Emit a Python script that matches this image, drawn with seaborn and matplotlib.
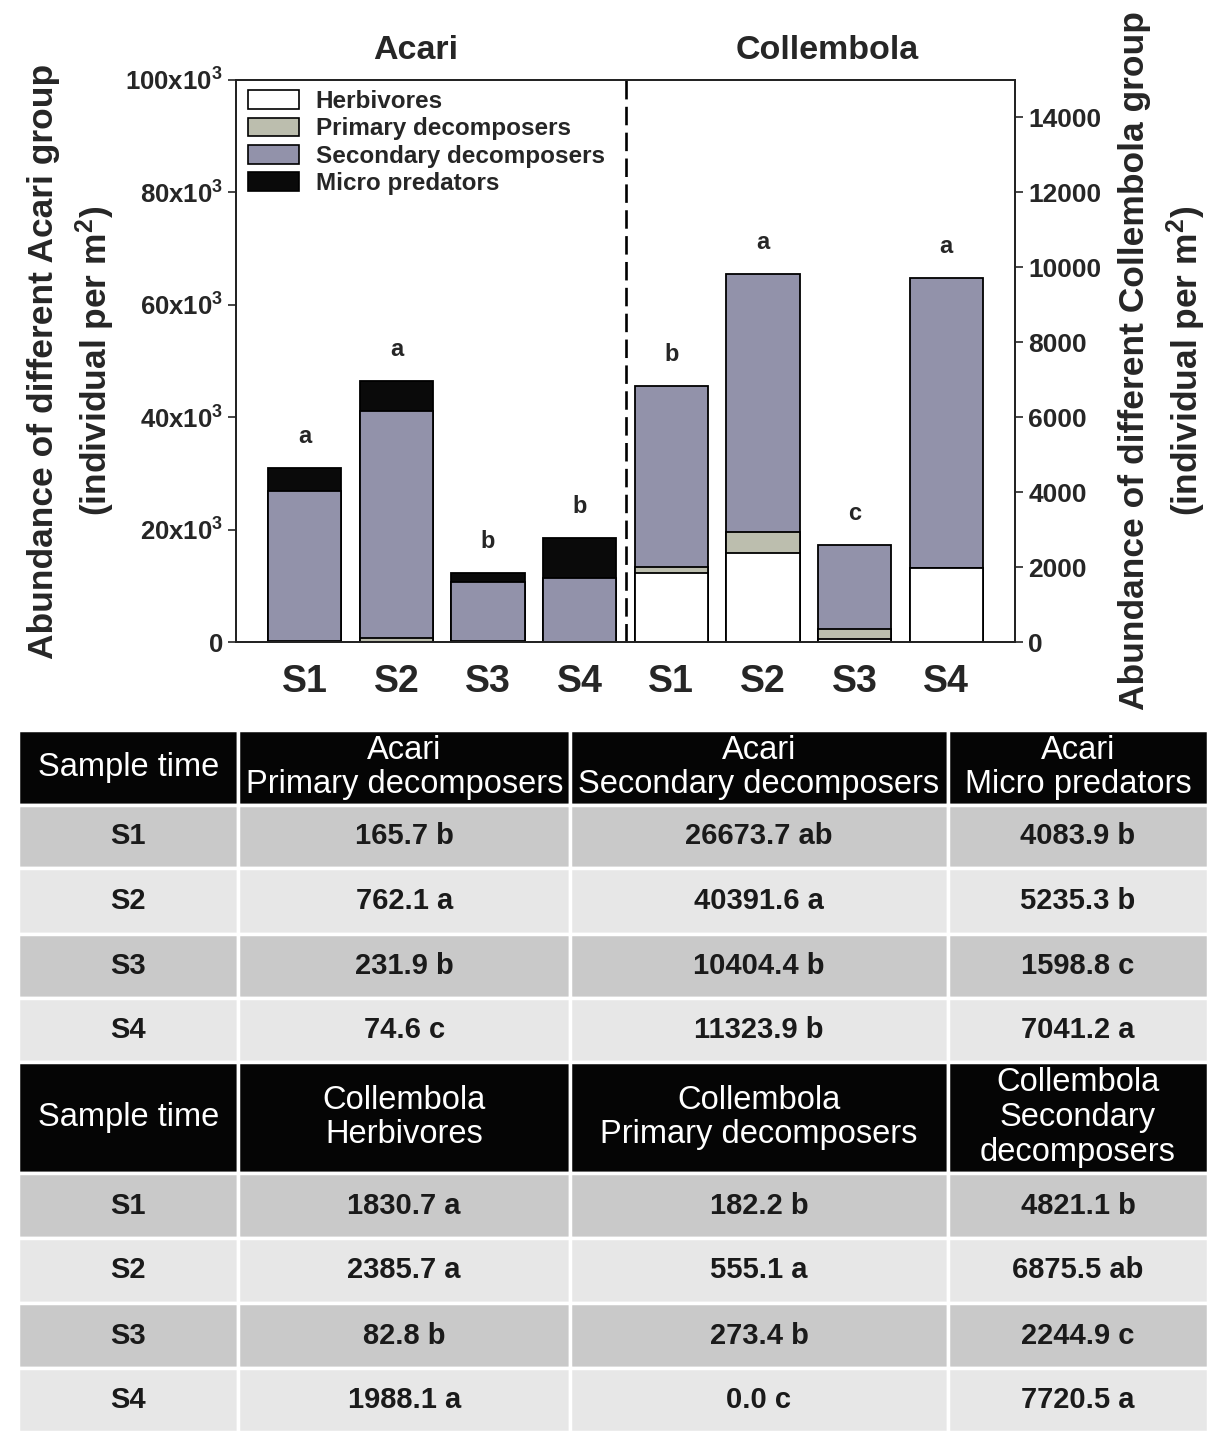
import numpy as np
import pandas as pd
import matplotlib
matplotlib.use('Agg')
import matplotlib.pyplot as plt
from matplotlib.patches import Patch
import seaborn as sns

# sample times and functional groups
samples = ['S1', 'S2', 'S3', 'S4']
groups = ['Herbivores', 'Primary decomposers', 'Secondary decomposers', 'Micro predators']
group_colors = ['#ffffff', '#bcbeae', '#9292aa', '#0a0a0a']

# Acari abundance (individual per m2)
acari_primary = [165.7, 762.1, 231.9, 74.6]
acari_secondary = [26673.7, 40391.6, 10404.4, 11323.9]
acari_predators = [4083.9, 5235.3, 1598.8, 7041.2]
acari_primary_sig = ['b', 'a', 'b', 'c']
acari_secondary_sig = ['ab', 'a', 'b', 'b']
acari_predators_sig = ['b', 'b', 'c', 'a']
acari_total_sig = ['a', 'a', 'b', 'b']

# Collembola abundance (individual per m2)
coll_herbivores = [1830.7, 2385.7, 82.8, 1988.1]
coll_primary = [182.2, 555.1, 273.4, 0.0]
coll_secondary = [4821.1, 6875.5, 2244.9, 7720.5]
coll_herbivores_sig = ['a', 'a', 'b', 'a']
coll_primary_sig = ['b', 'a', 'b', 'c']
coll_secondary_sig = ['b', 'ab', 'c', 'a']
coll_total_sig = ['b', 'a', 'c', 'a']

acari_ticks = [0, 20000, 40000, 60000, 80000, 100000]
coll_ticks = [0, 2000, 4000, 6000, 8000, 10000, 12000, 14000]

sns.set_style('ticks')
plt.rcParams['font.family'] = ['Liberation Sans', 'DejaVu Sans']
plt.rcParams['font.weight'] = 'bold'
plt.rcParams['mathtext.default'] = 'regular'

fig = plt.figure(figsize=(12.26, 14.44), dpi=100)
ax = fig.add_axes([0.1925, 0.5554, 0.6354, 0.3892])
ax2 = ax.twinx()

acari = pd.DataFrame({'pos': [0, 1, 2, 3],
                      'Primary decomposers': acari_primary,
                      'Secondary decomposers': acari_secondary,
                      'Micro predators': acari_predators})
coll = pd.DataFrame({'pos': [4, 5, 6, 7],
                     'Herbivores': coll_herbivores,
                     'Primary decomposers': coll_primary,
                     'Secondary decomposers': coll_secondary})
color_of = dict(zip(groups, group_colors))


def stacked(axis, df, cols, letters, offset):
    # draw cumulative sums from the top down so each layer sits on the one below
    cum = df[cols].cumsum(axis=1)
    for col in reversed(cols):
        sns.barplot(x=df['pos'], y=cum[col], native_scale=True, orient='x',
                    color=color_of[col], saturation=1, width=0.8,
                    edgecolor='black', linewidth=1.3, errorbar=None, ax=axis)
    for p, t, s in zip(df['pos'], cum[cols[-1]], letters):
        axis.annotate(s, (p, t), xytext=(0, offset), textcoords='offset points',
                      ha='center', va='baseline', fontsize=17, fontweight='bold')


stacked(ax, acari, ['Primary decomposers', 'Secondary decomposers', 'Micro predators'],
        acari_total_sig, 18)
stacked(ax2, coll, ['Herbivores', 'Primary decomposers', 'Secondary decomposers'],
        coll_total_sig, 18)

ax.axvline(3.5, color='black', lw=1.9, ls=(0, (7, 2.8)))

ax.set_xlim(-0.75, 7.75)
ax.set_ylim(0, 100000)
ax2.set_ylim(0, 15000)
ax.set_xticks(range(8))
ax.set_xticklabels(samples + samples)
ax.set_yticks(acari_ticks)
ax.set_yticklabels(['0'] + [f'{v // 1000}x10$^3$' for v in acari_ticks[1:]])
ax2.set_yticks(coll_ticks)
ax2.set_yticklabels([str(v) for v in coll_ticks])

ax.tick_params(axis='x', length=0, pad=16, labelsize=27)
ax.tick_params(axis='y', length=6, width=1.2, labelsize=18.5)
ax2.tick_params(axis='y', length=6, width=1.2, labelsize=19)
for a in (ax, ax2):
    for sp in a.spines.values():
        sp.set_visible(True)
        sp.set_linewidth(1.3)
        sp.set_color('#222222')

ax.set_xlabel('')
ax2.set_xlabel('')
ax.set_ylabel('Abundance of different Acari group\n(individual per m$^2$)',
              fontsize=25.5, fontweight='bold', labelpad=6, linespacing=1.4)
ax2.set_ylabel('Abundance of different Collembola group\n(individual per m$^2$)',
               fontsize=25.5, fontweight='bold', labelpad=12, linespacing=1.4)

ax.text(0.231, 1.053, 'Acari', transform=ax.transAxes, ha='center', va='center',
        fontsize=24.5, fontweight='bold')
ax.text(0.759, 1.053, 'Collembola', transform=ax.transAxes, ha='center', va='center',
        fontsize=24.5, fontweight='bold')

handles = [Patch(facecolor=c, edgecolor='black', linewidth=1.2) for c in group_colors]
ax2.legend(handles, groups, loc='upper left', bbox_to_anchor=(0.015, 0.982),
           frameon=False, prop={'size': 17.5, 'weight': 'bold'},
           handlelength=2.1, handleheight=0.8, handletextpad=0.7,
           labelspacing=0.18, borderaxespad=0, borderpad=0)

# summary table below the chart
def cells(values, letters):
    return [f'{v:.1f} {s}' for v, s in zip(values, letters)]

header_acari = ['Sample time', 'Acari\nPrimary decomposers',
                'Acari\nSecondary decomposers', 'Acari\nMicro predators']
header_coll = ['Sample time', 'Collembola\nHerbivores',
               'Collembola\nPrimary decomposers', 'Collembola\nSecondary\ndecomposers']
acari_cols = [cells(acari_primary, acari_primary_sig),
              cells(acari_secondary, acari_secondary_sig),
              cells(acari_predators, acari_predators_sig)]
coll_cols = [cells(coll_herbivores, coll_herbivores_sig),
             cells(coll_primary, coll_primary_sig),
             cells(coll_secondary, coll_secondary_sig)]

cell_text = [header_acari]
cell_text += [[s] + [c[i] for c in acari_cols] for i, s in enumerate(samples)]
cell_text += [header_coll]
cell_text += [[s] + [c[i] for c in coll_cols] for i, s in enumerate(samples)]

header_rows = [0, 5]
row_shades = ['#050505', '#c9c9c9', '#e7e7e7', '#c9c9c9', '#e7e7e7',
              '#050505', '#c9c9c9', '#e7e7e7', '#c9c9c9', '#e7e7e7']
row_heights = [75, 63, 66, 64, 64, 111, 65, 65, 65, 64]
col_widths = [220.5, 331.5, 378, 260]

ax_t = fig.add_axes([18 / 1226, 12 / 1444, 1190 / 1226, 702 / 1444])
ax_t.axis('off')
tbl = ax_t.table(cellText=cell_text,
                 cellColours=[[c] * 4 for c in row_shades],
                 colWidths=[w / sum(col_widths) for w in col_widths],
                 cellLoc='center', bbox=[0, 0, 1, 1])
tbl.auto_set_font_size(False)
for (r, c), cell in tbl.get_celld().items():
    cell.set_edgecolor('white')
    cell.set_linewidth(2.5)
    cell.set_height(row_heights[r] / sum(row_heights))
    txt = cell.get_text()
    if r in header_rows:
        txt.set_color('white')
        txt.set_fontsize(23.5)
        txt.set_fontweight('normal')
        txt.set_linespacing(1.15)
    else:
        txt.set_color('#1a1a1a')
        txt.set_fontsize(21)
        txt.set_fontweight('bold')

fig.savefig('out.png', dpi=100)
